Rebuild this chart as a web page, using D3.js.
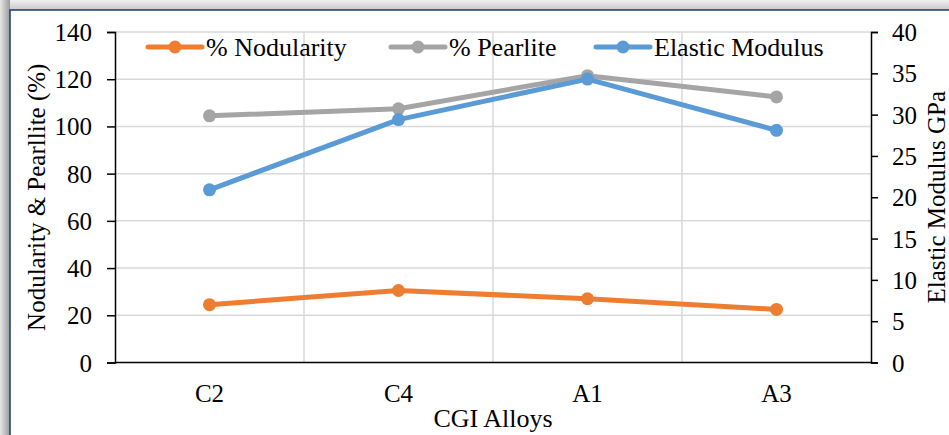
<!DOCTYPE html>
<html>
<head>
<meta charset="utf-8">
<script src="https://cdn.jsdelivr.net/npm/d3@7"></script>
<style>
  body { margin: 0; background: #fff; }
  text { font-family: "Liberation Serif", "DejaVu Serif", serif; fill: #000; }
</style>
</head>
<body>
<script>
// chart values
var categories = ["C2", "C4", "A1", "A3"];
var nodularity = [24.5, 30.5, 27, 22.5];
var pearlite = [104.5, 107.5, 121.5, 112.5];
var modulus = [20.9, 29.4, 34.3, 28.1];
var leftTicks = [0, 20, 40, 60, 80, 100, 120, 140];
var rightTicks = [0, 5, 10, 15, 20, 25, 30, 35, 40];

var W = 949, H = 435;
var plot = {left: 115, right: 871, top: 32, bottom: 362.5};
var fs = "25px";

var svg = d3.select("body").append("svg")
    .attr("width", W)
    .attr("height", H);

// frame / shadow round the chart panel
var defs = svg.append("defs");
var gTop = defs.append("linearGradient").attr("id", "shTop").attr("x1", 0).attr("y1", 0).attr("x2", 0).attr("y2", 1);
gTop.append("stop").attr("offset", "0%").attr("stop-color", "#f0f0f0");
gTop.append("stop").attr("offset", "100%").attr("stop-color", "#c8c8c8");
var gLeft = defs.append("linearGradient").attr("id", "shLeft").attr("x1", 0).attr("y1", 0).attr("x2", 1).attr("y2", 0);
gLeft.append("stop").attr("offset", "0%").attr("stop-color", "#e6e6e6");
gLeft.append("stop").attr("offset", "100%").attr("stop-color", "#9a9a9a");

svg.append("rect").attr("x", 0).attr("y", 0).attr("width", W).attr("height", 10).attr("fill", "url(#shTop)");
svg.append("rect").attr("x", 0).attr("y", 0).attr("width", 10).attr("height", H).attr("fill", "url(#shLeft)");
svg.append("rect").attr("x", 10).attr("y", 10).attr("width", W).attr("height", H)
    .attr("fill", "#fff").attr("stroke", "#1f3a78").attr("stroke-width", 1.5);

// scales
var x = d3.scaleBand().domain(categories).range([plot.left, plot.right]);
var yL = d3.scaleLinear().domain([0, 140]).range([plot.bottom, plot.top]);
var yR = d3.scaleLinear().domain([0, 40]).range([plot.bottom, plot.top]);
var cx = function(d, i) { return x(categories[i]) + x.bandwidth() / 2; };

// gridlines
svg.append("g").selectAll("line")
    .data(leftTicks.slice(1))
    .enter().append("line")
    .attr("x1", plot.left).attr("x2", plot.right)
    .attr("y1", function(d) { return yL(d); })
    .attr("y2", function(d) { return yL(d); })
    .attr("stroke", "#d9d9d9").attr("stroke-width", 1.5);

svg.append("g").selectAll("line")
    .data(categories.slice(1))
    .enter().append("line")
    .attr("x1", function(d) { return x(d); })
    .attr("x2", function(d) { return x(d); })
    .attr("y1", plot.top).attr("y2", plot.bottom)
    .attr("stroke", "#d9d9d9").attr("stroke-width", 1.5);

// axes
var leftAxis = svg.append("g")
    .attr("transform", "translate(" + plot.left + ",0)")
    .call(d3.axisLeft(yL).tickValues(leftTicks).tickSize(8).tickPadding(15));
var rightAxis = svg.append("g")
    .attr("transform", "translate(" + plot.right + ",0)")
    .call(d3.axisRight(yR).tickValues(rightTicks).tickSize(7).tickPadding(14));
var bottomAxis = svg.append("g")
    .attr("transform", "translate(0," + plot.bottom + ")")
    .call(d3.axisBottom(x).tickSize(0).tickPadding(22));

[leftAxis, rightAxis, bottomAxis].forEach(function(a) {
    a.attr("font-family", null).attr("font-size", null);
    a.select(".domain").attr("stroke", "#000").attr("stroke-width", 1.5);
    a.selectAll(".tick line").attr("stroke", "#000").attr("stroke-width", 1.5);
    a.selectAll("text")
        .style("font-family", "'Liberation Serif', serif")
        .style("font-size", fs);
});
bottomAxis.select(".domain").attr("d", "M" + plot.left + ",0H" + plot.right);
leftAxis.selectAll("text").attr("dy", "0.34em");
rightAxis.selectAll("text").attr("dy", "0.34em");

// series
var series = [
    {name: "% Nodularity", values: nodularity, color: "#ED7D31", y: yL},
    {name: "% Pearlite", values: pearlite, color: "#A5A5A5", y: yL},
    {name: "Elastic Modulus", values: modulus, color: "#5B9BD5", y: yR}
];

series.forEach(function(s) {
    var line = d3.line()
        .x(function(d, i) { return cx(d, i); })
        .y(function(d) { return s.y(d); });
    svg.append("path")
        .datum(s.values)
        .attr("d", line)
        .attr("fill", "none")
        .attr("stroke", s.color)
        .attr("stroke-width", 5)
        .attr("stroke-linejoin", "round")
        .attr("stroke-linecap", "round");
    svg.append("g").selectAll("circle")
        .data(s.values)
        .enter().append("circle")
        .attr("cx", function(d, i) { return cx(d, i); })
        .attr("cy", function(d) { return s.y(d); })
        .attr("r", 6.5)
        .attr("fill", s.color);
});

// legend
var legendX = [148, 391, 596];
var legend = svg.selectAll(".legend")
    .data(series)
    .enter().append("g")
    .attr("class", "legend")
    .attr("transform", function(d, i) { return "translate(" + legendX[i] + ",47)"; });
legend.append("line")
    .attr("x1", 0).attr("x2", 54)
    .attr("stroke", function(d) { return d.color; })
    .attr("stroke-width", 5)
    .attr("stroke-linecap", "round");
legend.append("circle")
    .attr("cx", 27).attr("r", 6.5)
    .attr("fill", function(d) { return d.color; });
legend.append("text")
    .attr("x", 58).attr("dy", "0.34em")
    .style("font-size", "26px")
    .text(function(d) { return d.name; });

// axis titles
svg.append("text")
    .attr("transform", "translate(45," + ((plot.top + plot.bottom) / 2) + ") rotate(-90)")
    .attr("text-anchor", "middle")
    .style("font-size", fs)
    .text("Nodularity & Pearllite (%)");
svg.append("text")
    .attr("transform", "translate(945," + ((plot.top + plot.bottom) / 2) + ") rotate(-90)")
    .attr("text-anchor", "middle")
    .style("font-size", fs)
    .text("Elastic Modulus GPa");
svg.append("text")
    .attr("x", (plot.left + plot.right) / 2)
    .attr("y", 427)
    .attr("text-anchor", "middle")
    .style("font-size", "26px")
    .text("CGI Alloys");
</script>
</body>
</html>
